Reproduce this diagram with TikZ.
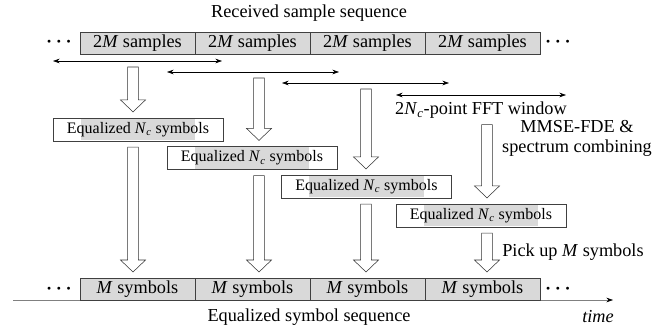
\documentclass[tikz,border=0pt]{standalone}
\usepackage{fontspec}
\setmainfont{Liberation Serif}
\usetikzlibrary{positioning,calc,arrows.meta}

\begin{document}
\begin{tikzpicture}[x=0.75pt, y=-0.75pt,
        every node/.style={font=\fontsize{13.7pt}{15pt}\selectfont},
        blk/.style={rectangle, draw=black!75, fill=black!15, minimum width=86.25pt, minimum height=16.5pt, inner sep=0pt, outer sep=0pt},
        eqbox/.style={rectangle, draw=black!75, minimum width=127.5pt, minimum height=17pt, inner sep=0pt, font=\fontsize{12pt}{14pt}\selectfont,
            path picture={\fill[black!15] ([xshift=-43.1pt,yshift=-0.3pt]path picture bounding box.north) rectangle ([xshift=43.1pt,yshift=0.3pt]path picture bounding box.south);}},
        win/.style={{Stealth[length=5pt,width=3.5pt]}-{Stealth[length=5pt,width=3.5pt]}, black},
        timeline/.style={draw=black!50, -{Stealth[length=5pt,width=3.5pt,black]}},
        fat/.style={draw=black!80, fill=white, to path={let \p1=(\tikztostart), \p2=(\tikztotarget) in
            (\x1-4.1pt,\y1-4.5pt) -- (\x1-4.1pt,\y2+13.5pt) -- (\x1-9.4pt,\y2+13.5pt) -- (\x1,\y2+4.5pt)
            -- (\x1+9.4pt,\y2+13.5pt) -- (\x1+4.1pt,\y2+13.5pt) -- (\x1+4.1pt,\y1-4.5pt) -- cycle}},
        dots/.style={font=\boldmath\fontsize{13.7pt}{15pt}\selectfont}
    ]
        \useasboundingbox (0,0) rectangle (672,332);

        % received samples
        \node (rxlbl) at (309,13) {Received sample sequence};
        \node[blk] (s1) at (137.5,43) {2\textit{M} samples};
        \node[blk, right=0pt of s1] (s2) {2\textit{M} samples};
        \node[blk, right=0pt of s2] (s3) {2\textit{M} samples};
        \node[blk, right=0pt of s3] (s4) {2\textit{M} samples};
        \node[dots] (sdl) at (59,42) {$\cdots$};
        \node[dots] (sdr) at (558,42) {$\cdots$};

        % FFT windows
        \coordinate (w1l) at (53,61);  \coordinate (w1r) at (222,61);
        \coordinate (w2l) at (167,72); \coordinate (w2r) at (339,72);
        \coordinate (w3l) at (282,83); \coordinate (w3r) at (449,83);
        \coordinate (w4l) at (396,95); \coordinate (w4r) at (566,95);
        \draw[win] (w1l) -- (w1r);
        \draw[win] (w2l) -- (w2r);
        \draw[win] (w3l) -- (w3r);
        \draw[win] (w4l) -- (w4r);
        \node[inner sep=0pt] (fftlbl) at (481,110) {2\textit{N}\textsubscript{\textit{c}}-point FFT window};

        % equalized blocks
        \node[eqbox] (eq1) at (138,129.5) {Equalized \textit{N}\textsubscript{\textit{c}} symbols};
        \node[eqbox] (eq2) at (252,158) {Equalized \textit{N}\textsubscript{\textit{c}} symbols};
        \node[eqbox] (eq3) at (366.5,186.5) {Equalized \textit{N}\textsubscript{\textit{c}} symbols};
        \node[eqbox] (eq4) at (481,215.5) {Equalized \textit{N}\textsubscript{\textit{c}} symbols};
        \node[align=center] (mmse) at (577,138) {MMSE-FDE \&\\spectrum combining};
        \node[anchor=west, inner sep=0pt] (pick) at (502,252) {Pick up \textit{M} symbols};

        % output symbols
        \coordinate (t0) at (13,300); \coordinate (t1) at (613,300);
        \draw[timeline] (t0) -- (t1);
        \node[blk] (m1) at (137.5,289) {\textit{M} symbols};
        \node[blk, right=0pt of m1] (m2) {\textit{M} symbols};
        \node[blk, right=0pt of m2] (m3) {\textit{M} symbols};
        \node[blk, right=0pt of m3] (m4) {\textit{M} symbols};
        \node[dots] (mdl) at (59,289) {$\cdots$};
        \node[dots] (mdr) at (558,289) {$\cdots$};
        \node (eqlbl) at (309,317) {Equalized symbol sequence};
        \node (timelbl) at (598,317) {\textit{time}};

        % block arrows
        \coordinate (c1) at (133,0);
        \coordinate (c2) at (259,0);
        \coordinate (c3) at (366,0);
        \coordinate (c4) at (487,0);
        \draw[fat] (w1l -| c1) to (eq1.north -| c1);
        \draw[fat] (w2l -| c2) to (eq2.north -| c2);
        \draw[fat] (w3l -| c3) to (eq3.north -| c3);
        \draw[fat] (fftlbl.south -| c4) to (eq4.north -| c4);
        \draw[fat] (eq1.south -| c1) to (m1.north -| c1);
        \draw[fat] (eq2.south -| c2) to (m2.north -| c2);
        \draw[fat] (eq3.south -| c3) to (m3.north -| c3);
        \draw[fat] (eq4.south -| c4) to (m4.north -| c4);
    \end{tikzpicture}
\end{document}
